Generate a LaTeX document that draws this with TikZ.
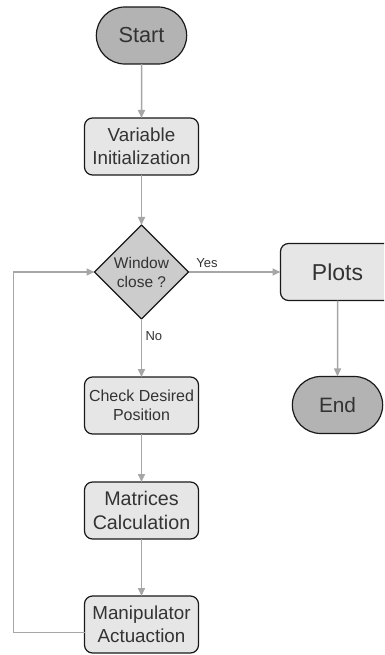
\documentclass[tikz,border=0pt]{standalone}
\usepackage{fontspec}
\setmainfont{Liberation Sans}
\usepackage{xcolor}
\usetikzlibrary{shapes.geometric, shapes.misc, arrows.meta, positioning}

\definecolor{txtgray}{HTML}{333333}
\definecolor{termgray}{HTML}{B3B3B3}
\definecolor{diagray}{HTML}{CCCCCC}
\definecolor{boxgray}{HTML}{E6E6E6}
\definecolor{linegray}{HTML}{A6A6A6}

\begin{document}
\begin{tikzpicture}[
  x=1pt, y=1pt,
  term/.style={rounded rectangle, draw=black!90, line width=1.2pt, fill=termgray, minimum width=97pt, minimum height=57pt, text=txtgray, outer sep=0pt},
  block/.style={rectangle, draw=black!90, line width=1.2pt, fill=boxgray, minimum width=114pt, minimum height=57pt, align=center, text=txtgray, inner sep=2pt, outer sep=0pt, rounded corners=8pt},
  decision/.style={diamond, aspect=1, draw=black!90, line width=1.2pt, fill=diagray, minimum size=94pt, inner sep=0pt, outer sep=0pt, align=center, text=txtgray},
  arrow/.style={-{Triangle[length=8pt, width=7pt]}, draw=linegray, line width=1.5pt},
  answer/.style={text=txtgray, font=\fontsize{13}{15}\selectfont}
]
  \useasboundingbox (0,0) rectangle (384,-655);
  \clip (0,0) rectangle (384,-655);

  \node[term, font=\fontsize{21.7}{26}\selectfont] (start) at (141.5,-35.5) {Start};
  \node[block, below=54pt of start, font=\fontsize{18.8}{22.5}\selectfont] (init) {Variable\\Initialization};
  \node[decision, below=50pt of init, font=\fontsize{15.5}{19}\selectfont] (win) {Window\\close ?};
  \node[block, below=58pt of win, font=\fontsize{16}{18.5}\selectfont] (check) {Check Desired\\Position};
  \node[block, below=48pt of check, font=\fontsize{19.7}{24}\selectfont] (mat) {Matrices\\Calculation};
  \node[block, below=57pt of mat, font=\fontsize{18.8}{22.7}\selectfont] (man) {Manipulator\\Actuaction};
  \node[block, right=92pt of win, font=\fontsize{23}{27}\selectfont] (plots) {Plots};
  \node[term, below=76pt of plots, font=\fontsize{20.8}{25}\selectfont] (end) {End};

  \draw[arrow] (start) -- (init);
  \draw[arrow] (init) -- (win);
  \draw[arrow] (win) -- node[answer, above, pos=0.2] {Yes} (plots);
  \draw[arrow] (win) -- node[answer, right, pos=0.29] {No} (check);
  \draw[arrow] (check) -- (mat);
  \draw[arrow] (mat) -- (man);
  \draw[arrow] (plots) -- (end);
  % loop back to the decision
  \draw[arrow] ([yshift=-8pt]man.west) -- ++(-71pt,0) |- (win.west);
\end{tikzpicture}
\end{document}
